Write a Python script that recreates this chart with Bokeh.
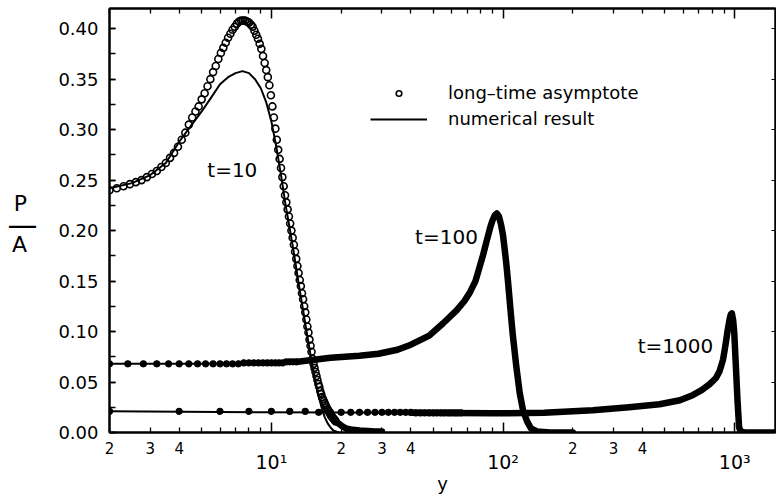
import numpy as np
from bokeh.plotting import figure
from bokeh.layouts import row
from bokeh.models import (Range1d, FixedTicker, LogAxis, LinearAxis, SingleIntervalTicker,
                          PrintfTickFormatter, Label, Legend, LegendItem)
from bokeh.embed import file_html
from bokeh.resources import INLINE

FONT = "DejaVu Sans"

# ---------------- data ----------------
# t = 10, long-time asymptote (circles), sampled every 0.15 in y
a10_x = np.round(2.0 + 0.15 * np.arange(114), 2)
a10_y = [0.240, 0.242, 0.244, 0.246, 0.248, 0.250, 0.253, 0.256, 0.259, 0.263,
         0.267, 0.272, 0.277, 0.283, 0.290, 0.297, 0.305, 0.312, 0.318, 0.323,
         0.330, 0.336, 0.343, 0.350, 0.357, 0.363, 0.370, 0.376, 0.381, 0.386,
         0.391, 0.395, 0.399, 0.402, 0.405, 0.407, 0.408, 0.408, 0.408, 0.407,
         0.406, 0.404, 0.402, 0.398, 0.394, 0.390, 0.385, 0.380, 0.373, 0.366,
         0.359, 0.352, 0.344, 0.334, 0.323, 0.312, 0.301, 0.290, 0.280, 0.271,
         0.262, 0.253, 0.244, 0.235, 0.228, 0.221, 0.214, 0.207, 0.200, 0.193,
         0.186, 0.179, 0.172, 0.165, 0.158, 0.151, 0.145, 0.138, 0.132, 0.125,
         0.119, 0.112, 0.105, 0.099, 0.092, 0.086, 0.080, 0.073, 0.068, 0.064,
         0.060, 0.056, 0.052, 0.048, 0.045, 0.041, 0.038, 0.035, 0.033, 0.031,
         0.029, 0.027, 0.025, 0.023, 0.022, 0.020, 0.019, 0.017, 0.016, 0.015,
         0.014, 0.013, 0.012, 0.011]
# dense tail of the t = 10 asymptote
a10_tail_x = [18.95, 20, 21, 22, 24, 26, 28, 30]
a10_tail_y = [0.011, 0.007, 0.004, 0.003, 0.002, 0.0015, 0.001, 0.001]

# t = 10, numerical result
n10_x = [2.0, 2.5, 3.0, 3.5, 4.0, 4.5, 5.0, 5.5, 6.0, 6.5, 7.0, 7.5, 8.0, 8.5, 9.0,
         9.5, 10.0, 10.5, 11.0, 11.5, 12.0, 12.5, 13.0, 13.5, 14.0, 14.5, 15.0,
         15.5, 16.0, 16.5, 17.0, 17.5, 18.0, 18.5, 19.0, 19.5]
n10_y = [0.242, 0.247, 0.255, 0.267, 0.288, 0.304, 0.318, 0.332, 0.345, 0.352, 0.356,
         0.358, 0.356, 0.350, 0.341, 0.327, 0.308, 0.283, 0.255, 0.226, 0.202, 0.178,
         0.153, 0.130, 0.108, 0.087, 0.067, 0.050, 0.036, 0.024, 0.015, 0.009, 0.005,
         0.002, 0.001, 0.0]

# t = 100 (numerical and asymptote coincide)
x100 = [2, 6, 10, 13, 18, 24, 29, 35, 40, 48, 55, 63, 68, 72, 76, 79, 82, 85, 88, 90,
        92, 94, 96, 98, 100, 103, 105, 108, 110, 114, 118, 122, 127, 132, 140, 160, 200]
y100 = [0.068, 0.068, 0.069, 0.070, 0.074, 0.076, 0.078, 0.082, 0.087, 0.096,
        0.108, 0.121, 0.130, 0.139, 0.150, 0.163, 0.176, 0.190, 0.203, 0.210,
        0.215, 0.217, 0.214, 0.206, 0.195, 0.170, 0.150, 0.118, 0.098, 0.066,
        0.039, 0.022, 0.011, 0.004, 0.001, 0.0, 0.0]
dots100_x = np.round(2.0 + 0.4 * np.arange(28), 1)
dots100_y = [0.068] * 14 + [0.069] * 10 + [0.070] * 4

# t = 1000 (numerical and asymptote coincide)
x1000 = [2, 9, 40, 90, 150, 244, 350, 474, 580, 658, 720, 780, 830, 861, 890, 904,
         920, 932, 950, 962, 972, 985, 996, 1012, 1028, 1045, 1060, 1100, 1500]
y1000 = [0.021, 0.020, 0.0195, 0.019, 0.0195, 0.022, 0.025, 0.028, 0.032, 0.037,
         0.042, 0.048, 0.054, 0.061, 0.072, 0.081, 0.092, 0.101, 0.112, 0.117,
         0.118, 0.111, 0.098, 0.065, 0.032, 0.005, 0.001, 0.0, 0.0]
dots1000_x = np.arange(2, 67, 2)
dots1000_y = [0.021] * 7 + [0.020] * 13 + [0.0195] * 13

# axis ticks
decades = [10, 100, 1000]
decade_labels = ["10¹", "10²", "10³"]
x_label_ticks = [2, 3, 4, 20, 30, 40, 200, 300, 400]
x_label_text = ["2", "3", "4", "2", "3", "4", "2", "3", "4"]
x_minor = [2, 3, 4, 5, 6, 7, 8, 9, 20, 30, 40, 50, 60, 70, 80, 90,
           200, 300, 400, 500, 600, 700, 800, 900]

curve_labels = ["t=10", "t=100", "t=1000"]
curve_label_x = [6.78, 57, 555]
curve_label_y = [0.260, 0.194, 0.086]

# y-axis title as a fraction P / A
ytitle_parts = ["P", "—", "A"]
ytitle_y = [0.227, 0.206, 0.186]

assert len(a10_x) == len(a10_y)
assert len(dots100_x) == len(dots100_y)
assert len(dots1000_x) == len(dots1000_y)

# ---------------- main figure ----------------
p = figure(width=736, height=496, x_axis_type="log",
           x_range=Range1d(2, 1500), y_range=Range1d(0, 0.42),
           output_backend="svg", toolbar_location=None,
           min_border_left=69, min_border_right=1, min_border_top=8, min_border_bottom=64)
p.grid.visible = False
p.outline_line_color = "black"
p.outline_line_width = 2
p.background_fill_color = "white"
p.border_fill_color = "white"

# bottom axis A: ticks only (decades long, others short)
ax = p.xaxis[0]
ax.ticker = FixedTicker(ticks=decades, minor_ticks=x_minor)
ax.major_label_text_font_size = "1px"
ax.major_label_text_color = None
ax.major_label_standoff = 0
ax.major_tick_in = 10
ax.major_tick_out = 0
ax.minor_tick_in = 5
ax.minor_tick_out = 0
ax.axis_line_width = 2
ax.major_tick_line_width = 1.5
ax.minor_tick_line_width = 1.3

# bottom axis C: 2 3 4 labels
axC = LogAxis(ticker=FixedTicker(ticks=x_label_ticks, minor_ticks=[]),
              major_label_overrides=dict(zip(x_label_ticks, x_label_text)),
              axis_line_color=None, major_tick_line_color=None, minor_tick_line_color=None,
              major_label_standoff=3, major_label_text_font=FONT,
              major_label_text_font_size="15px", major_label_text_color="black")
p.add_layout(axC, "below")

# bottom axis B: decade labels and axis title
axB = LogAxis(ticker=FixedTicker(ticks=decades, minor_ticks=[]),
              major_label_overrides=dict(zip(decades, decade_labels)),
              axis_line_color=None, major_tick_line_color=None, minor_tick_line_color=None,
              major_label_standoff=-12, major_label_text_font=FONT,
              major_label_text_font_size="19px", major_label_text_color="black",
              axis_label="y", axis_label_standoff=-3, axis_label_text_font=FONT,
              axis_label_text_font_size="18px", axis_label_text_font_style="normal",
              axis_label_text_color="black")
p.add_layout(axB, "below")

# top axis (ticks only)
axT = LogAxis(ticker=FixedTicker(ticks=decades, minor_ticks=x_minor),
              major_label_text_font_size="1px", major_label_text_color=None,
              major_label_standoff=0,
              major_tick_in=10, major_tick_out=0, minor_tick_in=5, minor_tick_out=0,
              axis_line_width=2, major_tick_line_width=1.5, minor_tick_line_width=1.3)
p.add_layout(axT, "above")

# left axis
ay = p.yaxis[0]
ay.ticker = SingleIntervalTicker(interval=0.05, num_minor_ticks=2)
ay.formatter = PrintfTickFormatter(format="%.2f")
ay.major_tick_in = 6
ay.major_tick_out = 0
ay.minor_tick_in = 6
ay.minor_tick_out = 0
ay.axis_line_width = 2
ay.major_tick_line_width = 1.5
ay.minor_tick_line_width = 1.5
ay.major_label_standoff = 11
ay.major_label_text_font = FONT
ay.major_label_text_font_size = "18px"
ay.major_label_text_color = "black"

# right axis (ticks only)
axR = LinearAxis(ticker=SingleIntervalTicker(interval=0.05, num_minor_ticks=0),
                 major_label_text_font_size="1px", major_label_text_color=None,
                 major_label_standoff=0,
                 major_tick_in=4, major_tick_out=0, minor_tick_line_color=None,
                 axis_line_width=2)
p.add_layout(axR, "right")

# ---------------- glyphs ----------------
band = dict(color="black", line_width=6.5, line_cap="round", line_join="round")
p.line(a10_tail_x, a10_tail_y, **band)
p.line(x100[3:], y100[3:], **band)
p.line(x1000[2:], y1000[2:], **band)

thin = dict(color="black", line_width=2, line_join="round")
n10 = p.line(n10_x, n10_y, **thin)
p.line(x100, y100, **thin)
p.line(x1000, y1000, **thin)

c10 = p.scatter(a10_x, a10_y, marker="circle", size=7, line_color="black",
                line_width=1.6, fill_alpha=0)
p.scatter(dots100_x, dots100_y, marker="circle", size=6, line_color="black",
          line_width=1.2, fill_color="black")
p.scatter(dots1000_x, dots1000_y, marker="circle", size=6, line_color="black",
          line_width=1.2, fill_color="black")

for txt, lx, ly in zip(curve_labels, curve_label_x, curve_label_y):
    p.add_layout(Label(x=lx, y=ly, text=txt, text_align="center", text_baseline="middle",
                       text_font=FONT, text_font_size="20px", text_color="black"))

legend = Legend(items=[LegendItem(label="long–time asymptote", renderers=[c10]),
                       LegendItem(label="numerical result", renderers=[n10])],
                location=(261, 303), padding=0, spacing=5, margin=0,
                glyph_width=57, glyph_height=14, label_height=20, label_standoff=21,
                label_text_font=FONT, label_text_font_size="18px", label_text_color="black",
                border_line_color=None, background_fill_alpha=0)
p.add_layout(legend)

# ---------------- y-axis title panel (frames align with the main plot in a row) -----
pl = figure(width=40, height=496, x_range=Range1d(0, 40), y_range=p.y_range,
            output_backend="svg", toolbar_location=None, x_axis_location=None,
            y_axis_location=None, min_border=0)
pl.grid.visible = False
pl.outline_line_color = None
pl.border_fill_color = "white"
pl.background_fill_color = "white"
title_sizes = ["22px", "30px", "22px"]
title_x = [20, 22, 19]
for txt, tx, ty, fs in zip(ytitle_parts, title_x, ytitle_y, title_sizes):
    pl.add_layout(Label(x=tx, y=ty, text=txt, text_align="center", text_baseline="middle",
                        text_font=FONT, text_font_size=fs, text_color="black"))

layout = row(pl, p)
open("out.html", "w").write(file_html(layout, INLINE))
